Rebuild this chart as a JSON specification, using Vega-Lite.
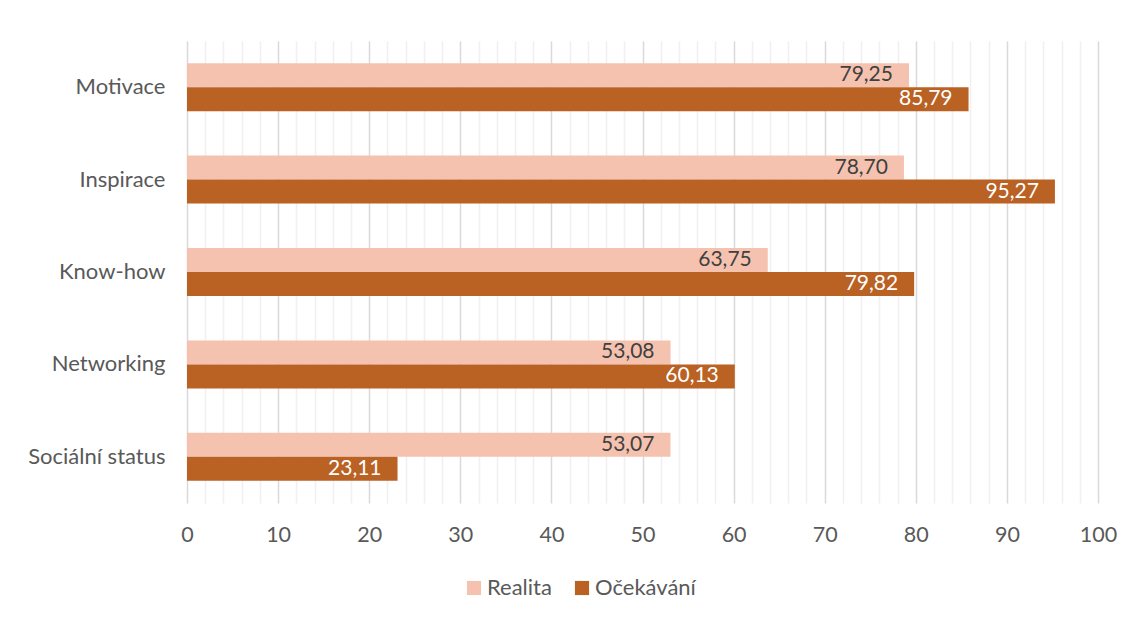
{
  "$schema": "https://vega.github.io/schema/vega-lite/v6.json",
  "autosize": {"type": "none"},
  "width": 911,
  "height": 462,
  "padding": {"left": 187, "top": 41, "right": 36, "bottom": 116},
  "background": "white",
  "config": {
    "view": {"stroke": null},
    "font": "Lato",
    "locale": {"number": {"decimal": ",", "thousands": " ", "grouping": [3], "currency": ["", " Kč"]}}
  },
  "data": {
    "values": [
      {"kategorie": "Motivace", "serie": "Realita", "hodnota": 79.25},
      {"kategorie": "Motivace", "serie": "Očekávání", "hodnota": 85.79},
      {"kategorie": "Inspirace", "serie": "Realita", "hodnota": 78.70},
      {"kategorie": "Inspirace", "serie": "Očekávání", "hodnota": 95.27},
      {"kategorie": "Know-how", "serie": "Realita", "hodnota": 63.75},
      {"kategorie": "Know-how", "serie": "Očekávání", "hodnota": 79.82},
      {"kategorie": "Networking", "serie": "Realita", "hodnota": 53.08},
      {"kategorie": "Networking", "serie": "Očekávání", "hodnota": 60.13},
      {"kategorie": "Sociální status", "serie": "Realita", "hodnota": 53.07},
      {"kategorie": "Sociální status", "serie": "Očekávání", "hodnota": 23.11}
    ]
  },
  "encoding": {
    "y": {
      "field": "kategorie", "type": "nominal",
      "sort": ["Motivace", "Inspirace", "Know-how", "Networking", "Sociální status"],
      "scale": {"paddingInner": 0.48, "paddingOuter": 0.24},
      "axis": {"title": null, "domain": false, "ticks": false, "labelFontSize": 22, "labelColor": "#595959", "labelPadding": 22}
    },
    "yOffset": {
      "field": "serie", "type": "nominal",
      "sort": ["Realita", "Očekávání"],
      "scale": {"paddingInner": 0, "paddingOuter": 0}
    },
    "x": {
      "field": "hodnota", "type": "quantitative",
      "scale": {"domain": [0, 100], "nice": false},
      "axis": {
        "title": null, "domain": false, "ticks": false, "labelFlush": false,
        "values": [0, 2, 4, 6, 8, 10, 12, 14, 16, 18, 20, 22, 24, 26, 28, 30, 32, 34, 36, 38, 40, 42, 44, 46, 48, 50, 52, 54, 56, 58, 60, 62, 64, 66, 68, 70, 72, 74, 76, 78, 80, 82, 84, 86, 88, 90, 92, 94, 96, 98, 100],
        "labelExpr": "datum.value % 10 === 0 ? datum.value : ''",
        "labelFontSize": 21.5, "labelColor": "#595959", "labelPadding": 21,
        "gridColor": {"condition": {"test": "datum.value % 10 === 0", "value": "#d9d9d9"}, "value": "#f0f0f0"},
        "gridWidth": 1.5
      }
    }
  },
  "layer": [
    {
      "mark": {"type": "bar", "cornerRadius": 0},
      "encoding": {
        "color": {
          "field": "serie", "type": "nominal",
          "scale": {"domain": ["Realita", "Očekávání"], "range": ["#F5C2AF", "#BA6124"]},
          "legend": {
            "title": null, "orient": "none", "direction": "horizontal",
            "legendX": 276, "legendY": 536,
            "symbolType": "square", "symbolSize": 200, "symbolStrokeWidth": 0,
            "labelFontSize": 22, "labelColor": "#595959", "columnPadding": 19, "labelOffset": 2
          }
        }
      }
    },
    {
      "mark": {"type": "text", "align": "right", "baseline": "middle", "dx": -16, "fontSize": 21},
      "encoding": {
        "text": {"field": "hodnota", "type": "quantitative", "format": ".2f"},
        "color": {
          "condition": {"test": "datum.serie === 'Realita'", "value": "#404040"},
          "value": "#ffffff"
        }
      }
    }
  ]
}
